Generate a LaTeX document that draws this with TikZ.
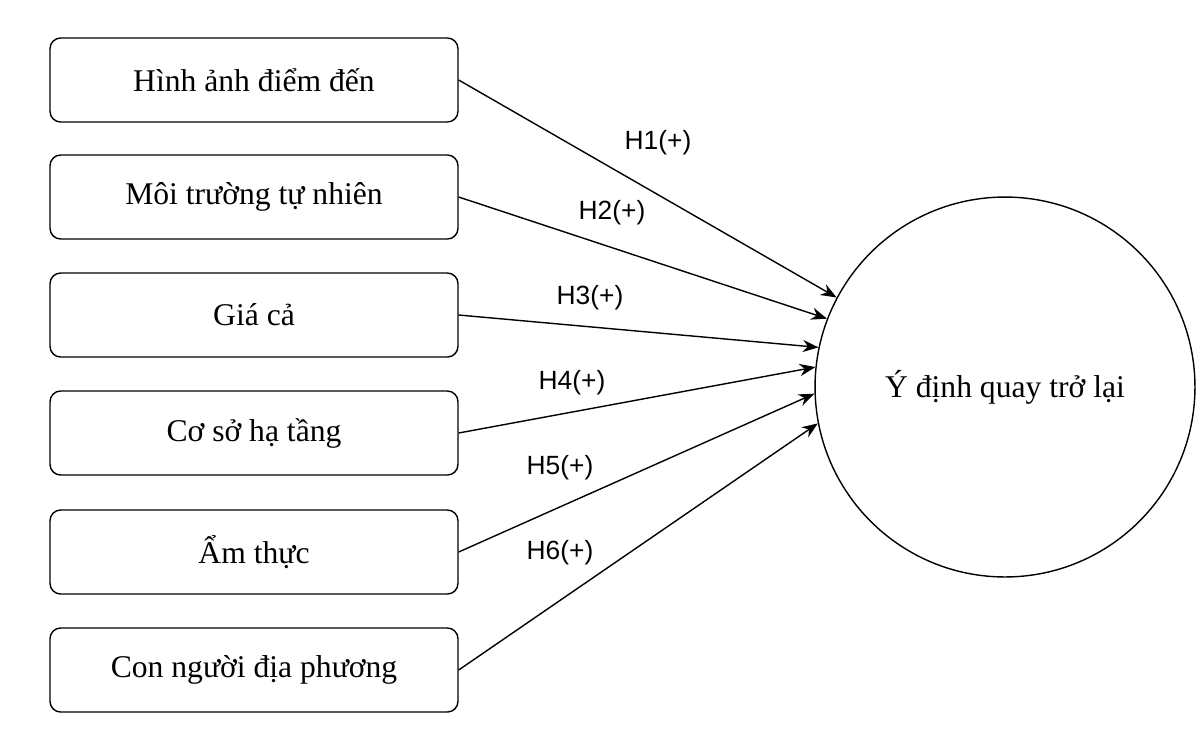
\documentclass[tikz,border=0pt]{standalone}
\usepackage{fontspec}
\setmainfont{Liberation Serif}
\newfontfamily\labelfont{Liberation Sans}
\usetikzlibrary{arrows.meta}
\tikzset{
  factor/.style={draw,line width=0.8pt,rounded corners=6pt,minimum width=8.16cm,minimum height=1.68cm,
    font=\fontsize{18}{20}\selectfont},
  hyp/.style={font=\labelfont\fontsize{15}{17}\selectfont},
  link/.style={-{Stealth[length=9pt,width=7pt]},line width=0.8pt}
}
\begin{document}
\begin{tikzpicture}[x=0.02cm,y=-0.02cm]
    \useasboundingbox (0,0) rectangle (1200,755);
    % outcome
    \node[draw,line width=0.8pt,circle,minimum size=7.6cm,font=\fontsize{18}{20}\selectfont] (intent) at (1005,387) {Ý định quay trở lại};

    % factors
    \node[factor] (f1) at (254,80) {Hình ảnh điểm đến};
    \node[factor] (f2) at (254,197) {Môi trường tự nhiên};
    \node[factor] (f3) at (254,315) {Giá cả};
    \node[factor] (f4) at (254,433) {Cơ sở hạ tầng};
    \node[factor] (f5) at (254,552) {Ẩm thực};
    \node[factor] (f6) at (254,670) {Con người địa phương};

    % hypotheses
    \draw[link] (f1.east) -- (intent.152);
    \draw[link] (f2.east) -- (intent.159);
    \draw[link] (f3.east) -- (intent.168);
    \draw[link] (f4.east) -- (intent.174);
    \draw[link] (f5.east) -- (intent.182);
    \draw[link] (f6.east) -- (intent.191);
    \node[hyp] (h1) at (658,143) {H1(+)};
    \node[hyp] (h2) at (612,213) {H2(+)};
    \node[hyp] (h3) at (590,298) {H3(+)};
    \node[hyp] (h4) at (572,383) {H4(+)};
    \node[hyp] (h5) at (560,468) {H5(+)};
    \node[hyp] (h6) at (560,553) {H6(+)};
\end{tikzpicture}
\end{document}
